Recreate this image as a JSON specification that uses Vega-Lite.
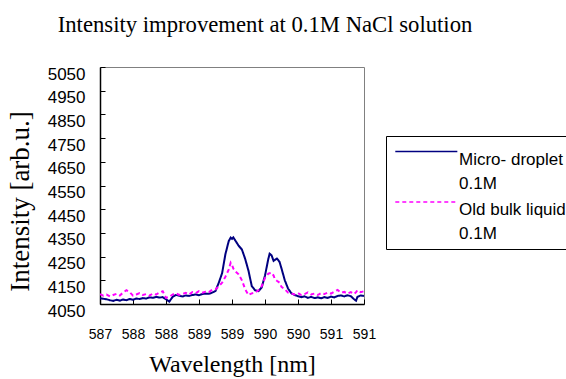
{
  "$schema": "https://vega.github.io/schema/vega-lite/v6.json",
  "width": 264,
  "height": 237,
  "autosize": "none",
  "padding": {"left": 100, "top": 67, "right": 202, "bottom": 75},
  "background": "white",
  "title": {
    "text": "Intensity improvement at 0.1M NaCl solution",
    "font": "Liberation Serif",
    "fontSize": 22.7,
    "fontWeight": "normal",
    "color": "black",
    "anchor": "middle",
    "baseline": "alphabetic",
    "offset": 10,
    "dx": 33
  },
  "data": {
    "values": [
      {"x": 587.00, "a": 4074, "b": 4092},
      {"x": 587.05, "a": 4072, "b": 4085},
      {"x": 587.10, "a": 4070, "b": 4090},
      {"x": 587.15, "a": 4066, "b": 4082},
      {"x": 587.20, "a": 4063, "b": 4088},
      {"x": 587.25, "a": 4068, "b": 4093},
      {"x": 587.30, "a": 4064, "b": 4086},
      {"x": 587.35, "a": 4069, "b": 4098},
      {"x": 587.40, "a": 4066, "b": 4108},
      {"x": 587.45, "a": 4071, "b": 4100},
      {"x": 587.50, "a": 4068, "b": 4085},
      {"x": 587.55, "a": 4073, "b": 4090},
      {"x": 587.60, "a": 4071, "b": 4096},
      {"x": 587.65, "a": 4075, "b": 4088},
      {"x": 587.70, "a": 4073, "b": 4092},
      {"x": 587.75, "a": 4078, "b": 4085},
      {"x": 587.80, "a": 4076, "b": 4094},
      {"x": 587.85, "a": 4080, "b": 4090},
      {"x": 587.90, "a": 4077, "b": 4098},
      {"x": 587.95, "a": 4079, "b": 4104},
      {"x": 588.00, "a": 4070, "b": 4076},
      {"x": 588.05, "a": 4060, "b": 4080},
      {"x": 588.10, "a": 4080, "b": 4090},
      {"x": 588.15, "a": 4088, "b": 4095},
      {"x": 588.20, "a": 4085, "b": 4088},
      {"x": 588.25, "a": 4082, "b": 4092},
      {"x": 588.30, "a": 4086, "b": 4097},
      {"x": 588.35, "a": 4084, "b": 4090},
      {"x": 588.40, "a": 4088, "b": 4100},
      {"x": 588.45, "a": 4090, "b": 4096},
      {"x": 588.50, "a": 4087, "b": 4104},
      {"x": 588.55, "a": 4092, "b": 4098},
      {"x": 588.60, "a": 4094, "b": 4102},
      {"x": 588.65, "a": 4093, "b": 4100},
      {"x": 588.70, "a": 4098, "b": 4110},
      {"x": 588.75, "a": 4105, "b": 4112},
      {"x": 588.80, "a": 4140, "b": 4125},
      {"x": 588.85, "a": 4180, "b": 4140},
      {"x": 588.90, "a": 4260, "b": 4165},
      {"x": 588.95, "a": 4315, "b": 4195},
      {"x": 588.98, "a": 4330, "b": 4224},
      {"x": 589.00, "a": 4325, "b": 4215},
      {"x": 589.02, "a": 4331, "b": 4200},
      {"x": 589.05, "a": 4318, "b": 4188},
      {"x": 589.10, "a": 4296, "b": 4175},
      {"x": 589.15, "a": 4280, "b": 4150},
      {"x": 589.20, "a": 4240, "b": 4112},
      {"x": 589.25, "a": 4190, "b": 4088},
      {"x": 589.30, "a": 4125, "b": 4095},
      {"x": 589.35, "a": 4108, "b": 4098},
      {"x": 589.40, "a": 4104, "b": 4108},
      {"x": 589.45, "a": 4120, "b": 4125},
      {"x": 589.50, "a": 4170, "b": 4160},
      {"x": 589.55, "a": 4240, "b": 4178},
      {"x": 589.57, "a": 4262, "b": 4180},
      {"x": 589.60, "a": 4255, "b": 4182},
      {"x": 589.63, "a": 4232, "b": 4170},
      {"x": 589.65, "a": 4236, "b": 4155},
      {"x": 589.68, "a": 4242, "b": 4148},
      {"x": 589.72, "a": 4228, "b": 4140},
      {"x": 589.75, "a": 4200, "b": 4122},
      {"x": 589.80, "a": 4150, "b": 4112},
      {"x": 589.85, "a": 4115, "b": 4098},
      {"x": 589.90, "a": 4095, "b": 4094},
      {"x": 589.95, "a": 4088, "b": 4090},
      {"x": 590.00, "a": 4083, "b": 4096},
      {"x": 590.05, "a": 4079, "b": 4088},
      {"x": 590.10, "a": 4082, "b": 4092},
      {"x": 590.15, "a": 4076, "b": 4099},
      {"x": 590.20, "a": 4080, "b": 4090},
      {"x": 590.25, "a": 4075, "b": 4094},
      {"x": 590.30, "a": 4078, "b": 4088},
      {"x": 590.35, "a": 4074, "b": 4096},
      {"x": 590.40, "a": 4079, "b": 4092},
      {"x": 590.45, "a": 4076, "b": 4098},
      {"x": 590.50, "a": 4081, "b": 4094},
      {"x": 590.55, "a": 4078, "b": 4102},
      {"x": 590.60, "a": 4084, "b": 4109},
      {"x": 590.65, "a": 4086, "b": 4098},
      {"x": 590.70, "a": 4082, "b": 4101},
      {"x": 590.75, "a": 4087, "b": 4094},
      {"x": 590.80, "a": 4083, "b": 4100},
      {"x": 590.85, "a": 4070, "b": 4092},
      {"x": 590.88, "a": 4064, "b": 4100},
      {"x": 590.90, "a": 4080, "b": 4108},
      {"x": 590.95, "a": 4086, "b": 4100},
      {"x": 591.00, "a": 4084, "b": 4104}
    ]
  },
  "transform": [{"fold": ["a", "b"], "as": ["series", "value"]}],
  "mark": {"type": "line", "strokeWidth": 2, "clip": true},
  "encoding": {
    "x": {
      "field": "x",
      "type": "quantitative",
      "scale": {"domain": [587, 591], "nice": false, "zero": false},
      "axis": {
        "title": "Wavelength [nm]",
        "titleFontSize": 24,
        "values": [587, 587.5, 588, 588.5, 589, 589.5, 590, 590.5, 591],
        "format": ".0f",
        "labelFontSize": 14,
        "labelPadding": 28,
        "titlePadding": 11
      }
    },
    "y": {
      "field": "value",
      "type": "quantitative",
      "scale": {"domain": [4050, 5050], "nice": false, "zero": false},
      "axis": {
        "title": "Intensity [arb.u.]",
        "titleFontSize": 27,
        "titleY": 134,
        "values": [4050, 4150, 4250, 4350, 4450, 4550, 4650, 4750, 4850, 4950, 5050],
        "format": "d",
        "labelFontSize": 17,
        "labelPadding": 20,
        "labelOffset": 7,
        "titlePadding": 13
      }
    },
    "color": {
      "field": "series",
      "type": "nominal",
      "scale": {"domain": ["a", "b"], "range": ["#000080", "#FF00FF"]},
      "legend": {
        "title": null,
        "labelExpr": "datum.label == 'a' ? ['Micro- droplet', '0.1M'] : ['Old bulk liquid', '0.1M']",
        "encoding": {"labels": {"lineHeight": {"value": 24}}}
      }
    },
    "strokeDash": {
      "field": "series",
      "type": "nominal",
      "scale": {"domain": ["a", "b"], "range": [[1, 0], [4, 3]]},
      "legend": {
        "title": null,
        "labelExpr": "datum.label == 'a' ? ['Micro- droplet', '0.1M'] : ['Old bulk liquid', '0.1M']",
        "encoding": {"labels": {"lineHeight": {"value": 24}}}
      }
    }
  },
  "config": {
    "view": {"stroke": "#808080", "strokeWidth": 1},
    "axis": {
      "grid": false,
      "domainColor": "#000000",
      "domainWidth": 1.5,
      "tickColor": "#000000",
      "tickSize": -5,
      "tickWidth": 1,
      "labelFont": "Liberation Sans",
      "labelColor": "#000000",
      "titleFont": "Liberation Serif",
      "titleFontWeight": "normal",
      "titleColor": "#000000",
      "labelFlush": false,
      "labelOverlap": false
    },
    "legend": {
      "orient": "none",
      "legendX": 286,
      "legendY": 69,
      "strokeColor": "#000000",
      "fillColor": "#ffffff",
      "padding": 7,
      "symbolType": "M-1,0H9",
      "symbolSize": 154,
      "symbolStrokeWidth": 1.5,
      "labelFont": "Liberation Sans",
      "labelFontSize": 17,
      "labelColor": "#000000",
      "labelBaseline": "top",
      "labelOffset": 49,
      "labelLimit": 300,
      "rowPadding": 1.5
    },
    "style": {"guide-label": {"lineHeight": 24}}
  }
}
